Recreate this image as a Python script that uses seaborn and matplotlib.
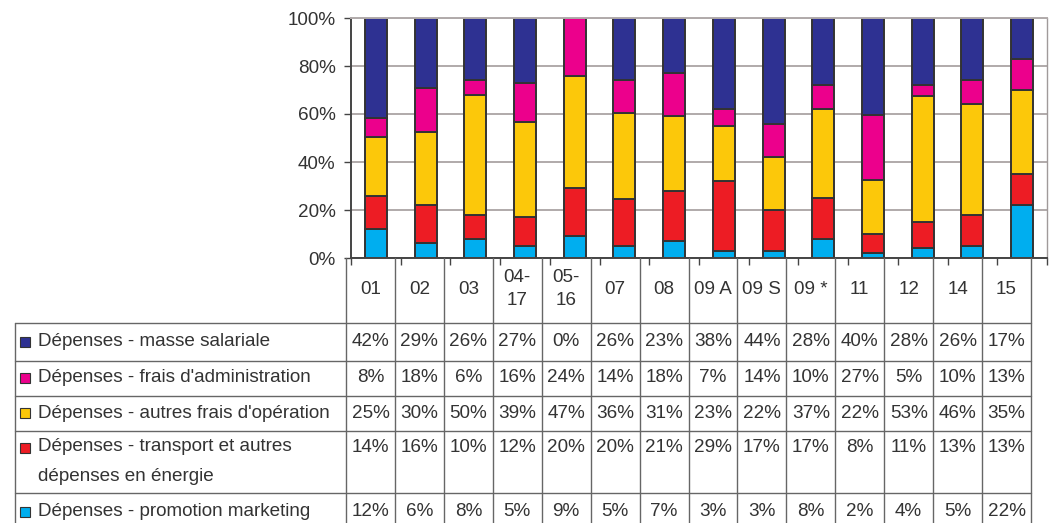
import numpy as np
import pandas as pd
import matplotlib
matplotlib.use("Agg")
import matplotlib.pyplot as plt
import seaborn as sns
from matplotlib.ticker import PercentFormatter
from matplotlib.patches import Rectangle

sns.set_theme(style="white")
plt.rcParams["font.family"] = ["Liberation Sans", "DejaVu Sans"]

# Groups (columns of the table)
groupes = ["01", "02", "03", "04-\n17", "05-\n16", "07", "08", "09 A", "09 S",
           "09 *", "11", "12", "14", "15"]

# Expense shares per group, in %
masse_salariale = [42, 29, 26, 27, 0, 26, 23, 38, 44, 28, 40, 28, 26, 17]
frais_admin = [8, 18, 6, 16, 24, 14, 18, 7, 14, 10, 27, 5, 10, 13]
autres_frais = [25, 30, 50, 39, 47, 36, 31, 23, 22, 37, 22, 53, 46, 35]
transport_energie = [14, 16, 10, 12, 20, 20, 21, 29, 17, 17, 8, 11, 13, 13]
promotion = [12, 6, 8, 5, 9, 5, 7, 3, 3, 8, 2, 4, 5, 22]

postes = [
    "Dépenses - masse salariale",
    "Dépenses - frais d'administration",
    "Dépenses - autres frais d'opération",
    "Dépenses - transport et autres\ndépenses en énergie",
    "Dépenses - promotion marketing",
]
couleurs = ["#2e3192", "#ec008c", "#fcc80a", "#ed1c24", "#00aeef"]
series = [masse_salariale, frais_admin, autres_frais, transport_energie, promotion]

df = pd.DataFrame(
    [(g, p, v) for p, vals in zip(postes, series) for g, v in zip(groupes, vals)],
    columns=["groupe", "poste", "part"],
)

W, H = 1057, 523
FS = 13.6
TXT = "#333333"
fig = plt.figure(figsize=(W / 100, H / 100), dpi=100)

# ---- stacked 100 % bars ----
ax = fig.add_axes([351 / W, 1 - 258 / H, (1047 - 351) / W, (258 - 18) / H])
ax.set_axisbelow(True)
ax.yaxis.grid(True, color="#b0aaaa", lw=1.4)
sns.histplot(
    data=df, x="groupe", weights="part", hue="poste", hue_order=postes,
    palette=dict(zip(postes, couleurs)), multiple="fill", discrete=True,
    shrink=0.44, alpha=1, edgecolor="#333333", linewidth=1.4,
    legend=False, ax=ax,
)
ax.set_xlim(-0.5, len(groupes) - 0.5)
ax.set_ylim(0, 1)
ax.set_yticks(np.linspace(0, 1, 6))
ax.yaxis.set_major_formatter(PercentFormatter(1.0, decimals=0))
ax.set_xticks(np.arange(-0.5, len(groupes), 1.0))
ax.set_xticklabels([])
ax.set_xlabel("")
ax.set_ylabel("")
ax.tick_params(axis="y", length=5, width=1, color="#444444", pad=6,
               labelsize=FS, labelcolor=TXT, left=True)
ax.tick_params(axis="x", length=5, width=1, color="#444444", bottom=True)
for side in ("left", "bottom"):
    ax.spines[side].set_color("#444444")
    ax.spines[side].set_linewidth(1.4)
ax.spines["right"].set_color("#a09a9a")
ax.spines["right"].set_linewidth(1.0)
ax.spines["top"].set_color("#b0aaaa")
ax.spines["top"].set_linewidth(1.4)

# ---- data table ----
tab = fig.add_axes([0, 0, 1, 1])
tab.set_xlim(0, W)
tab.set_ylim(H, 0)
tab.axis("off")

col_edges = np.linspace(346, 1031, len(groupes) + 1)
col_centers = (col_edges[:-1] + col_edges[1:]) / 2
row_edges = [323, 361, 396, 431, 493, 531]
text_y = [342, 378, 413, 448, 512]
line_kw = dict(color="#666666", lw=1.0)

# header cells
for x in col_edges:
    tab.plot([x, x], [258, row_edges[-1]], **line_kw)
for xc, g in zip(col_centers, groupes):
    tab.text(xc, 289, g, ha="center", va="center", fontsize=FS,
             color=TXT, linespacing=1.5)

# body rows
tab.plot([15, 15], [row_edges[0], row_edges[-1]], **line_kw)
for y in row_edges[:-1]:
    tab.plot([15, col_edges[-1]], [y, y], **line_kw)

for i, (poste, coul, vals) in enumerate(zip(postes, couleurs, series)):
    y = text_y[i]
    tab.add_patch(Rectangle((20, y - 5), 10, 10, facecolor=coul,
                            edgecolor="#333333", lw=0.8))
    if "\n" in poste:
        tab.text(38, y - 10, poste, ha="left", va="top", fontsize=FS,
                 color=TXT, linespacing=2.0)
    else:
        tab.text(38, y, poste, ha="left", va="center", fontsize=FS, color=TXT)
    for xc, v in zip(col_centers, vals):
        tab.text(xc, y, f"{v}%", ha="center", va="center", fontsize=FS,
                 color=TXT)

fig.savefig("out.png", dpi=100)
